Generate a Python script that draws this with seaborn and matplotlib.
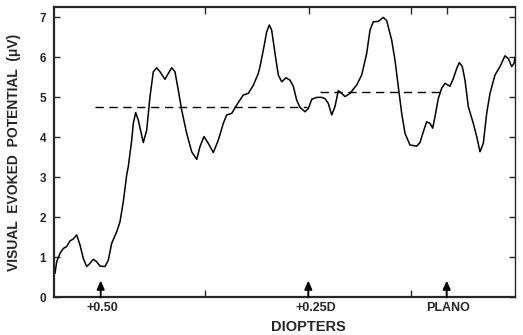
import matplotlib
matplotlib.use("Agg")
import matplotlib.pyplot as plt
import seaborn as sns
import pandas as pd

# trace of the recording (x in chart units, y in microvolts)
pos = [0.5, 2.2, 5.5, 8.8, 12.2, 15.5, 18.8, 22.2, 25.5, 28.8, 32.2, 35.5, 38.8,
       42.2, 45.5, 50.5, 53.8, 57.2, 62.2, 65.5, 68.8, 72.2, 73.8, 77.2, 78.8,
       81.2, 83.8, 88.8, 92.2, 95.5, 98.8, 102.2, 105.5, 110.5, 113.8, 117.2,
       120.5, 123.8, 127.2, 132.2, 137.2, 142.2, 145.5, 149.5, 153.8, 158.8,
       163.8, 168.8, 172.2, 177.2, 182.2, 188.8, 193.8, 198.8, 203.8, 205.5,
       208.8, 212.2, 214.8, 217.2, 220.5, 223.8, 227.2, 231.5, 235.5, 238.8,
       242.2, 245.5, 250.5, 253.8, 257.2, 262.2, 267.2, 270.5, 273.8, 277.2,
       280.5, 283.8, 287.2, 290.5, 295.5, 302.2, 307.2, 312.2, 315.5, 318.8,
       323.8, 328.8, 332.2, 337.2, 340.5, 343.8, 347.2, 350.5, 355.5, 362.2,
       365.5, 368.8, 372.2, 375.5, 378.2, 380.5, 383.8, 387.2, 390.5, 395.5,
       398.8, 402.2, 404.8, 407.8, 410.5, 413.8, 418.8, 422.2, 425.5, 428.8,
       432.2, 435.5, 440.5, 445.5, 450.5, 453.8, 457.2, 459.5, 460.5]
vep = [0.6, 0.89, 1.1, 1.22, 1.27, 1.41, 1.46, 1.56, 1.31, 0.97, 0.77, 0.85, 0.95,
       0.89, 0.78, 0.77, 0.93, 1.35, 1.64, 1.89, 2.39, 3.06, 3.27, 3.93, 4.35,
       4.62, 4.43, 3.87, 4.18, 5.02, 5.64, 5.74, 5.64, 5.45, 5.6, 5.74,
       5.64, 5.18, 4.68, 4.1, 3.64, 3.45, 3.77, 4.02, 3.85, 3.62,
       3.93, 4.35, 4.56, 4.6, 4.81, 5.06, 5.1, 5.3, 5.6, 5.77,
       6.18, 6.64, 6.81, 6.68, 6.1, 5.56, 5.39, 5.49, 5.43, 5.28,
       4.93, 4.75, 4.64, 4.72, 4.95, 5.0, 5.0, 4.97, 4.85, 4.56,
       4.77, 5.17, 5.1, 5.02, 5.1, 5.31, 5.56, 6.1, 6.68, 6.89,
       6.9, 7.0, 6.92, 6.43, 5.93, 5.27, 4.6, 4.1, 3.81, 3.78,
       3.87, 4.14, 4.39, 4.35, 4.23, 4.52, 4.97, 5.23, 5.35, 5.28,
       5.47, 5.72, 5.87, 5.77, 5.43, 4.77, 4.35, 4.02, 3.64, 3.85,
       4.6, 5.1, 5.56, 5.77, 6.04, 5.97, 5.77, 5.85, 6.0]

# mean levels (dashed)
mean_levels = [4.75, 5.14]
mean_start = [41.0, 265.5]
mean_end = [253.0, 385.5]

# lens steps marked with arrows
step_pos = [46.2, 253.8, 392.2]
step_labels = ["+0.50", "+0.25D", "PLANO"]
label_shift = [1.5, 8.0, 1.0]

y_ticks = [0, 1, 2, 3, 4, 5, 6, 7]

df = pd.DataFrame({"pos": pos, "vep": vep})

sns.set_style("ticks")
plt.rcParams["font.family"] = ["Liberation Sans", "DejaVu Sans"]
plt.rcParams["font.weight"] = "bold"

fig = plt.figure(figsize=(5.23, 3.35), dpi=100)
ax = fig.add_axes([0.1042, 0.1125, 0.8805, 0.8666])

sns.lineplot(data=df, x="pos", y="vep", color="black", linewidth=1.1, ax=ax)

for lvl, x0, x1 in zip(mean_levels, mean_start, mean_end):
    ax.plot([x0, x1], [lvl, lvl], color="black", linewidth=1.0,
            linestyle=(0, (6, 4)))

for xp, lab, dx in zip(step_pos, step_labels, label_shift):
    ax.annotate("", xy=(xp, 0.42), xytext=(xp, 0.0),
                arrowprops=dict(arrowstyle="-|>,head_length=0.5,head_width=0.22",
                                color="black", linewidth=1.4,
                                shrinkA=0, shrinkB=0))
    ax.text(xp + dx, -0.036, lab, transform=ax.get_xaxis_transform(),
            ha="center", va="center", fontsize=9, fontweight="bold")

ax.set_xlim(0, 460.5)
ax.set_ylim(0, 7.26)
ax.set_yticks(y_ticks)
ax.set_yticklabels([str(t) for t in y_ticks], fontsize=8.5, fontweight="bold")
ax.set_xticks([150.5, 356.5])
ax.set_xticklabels(["", ""])
ax.set_xticks([254.8, 392.2], minor=True)
ax.tick_params(axis="y", direction="in", length=4, width=1, right=True, pad=6)
ax.tick_params(axis="x", which="major", direction="in", length=5, width=1,
               top=True, bottom=True)
ax.tick_params(axis="x", which="minor", direction="in", length=5, width=1,
               top=True, bottom=False)

ax.set_xlabel("")
ax.set_ylabel("VISUAL  EVOKED  POTENTIAL  (\u03bcV)", fontsize=10,
              fontweight="bold", labelpad=13)
fig.text(308 / 523, 1 - 326.7 / 335, "DIOPTERS", ha="center", va="center",
         fontsize=10.5, fontweight="bold")

for side in ["left", "bottom", "top"]:
    ax.spines[side].set_linewidth(1.6)
ax.spines["right"].set_linewidth(1.0)

fig.savefig("out.png", dpi=100)
